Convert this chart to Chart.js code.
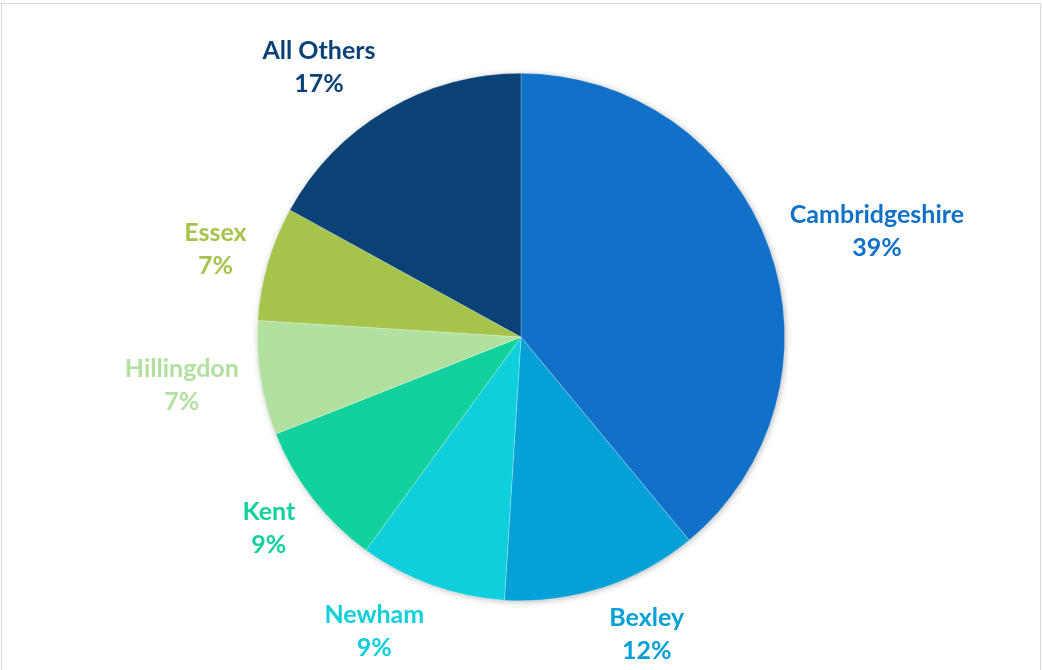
<!DOCTYPE html>
<html>
<head>
<meta charset="utf-8">
<script src="https://cdn.jsdelivr.net/npm/chart.js@4/dist/chart.umd.min.js"></script>
<style>
    html, body { margin: 0; padding: 0; background: #fff; overflow: hidden; }
    #wrap { position: absolute; left: 0; top: 0; width: 1042px; height: 670px; }
    #frame {
        position: absolute; left: 1px; top: 3px; width: 1038px; height: 700px;
        border: 1.5px solid #d9d9d9; pointer-events: none;
    }
</style>
</head>
<body>
<div id="wrap"><canvas id="pieChart" width="1042" height="670"></canvas></div>
<div id="frame"></div>
<script>
const regions = ['Cambridgeshire', 'Bexley', 'Newham', 'Kent', 'Hillingdon', 'Essex', 'All Others'];
const shares = [39, 12, 9, 9, 7, 7, 17];
const sliceColors = ['#1170c8', '#05a0d8', '#0ecfdb', '#12d19c', '#b2e0a0', '#a6c44c', '#0b4276'];

// soft shadow behind the whole pie
const pieShadow = {
    id: 'pieShadow',
    beforeDatasetsDraw(chart) {
        const arc = chart.getDatasetMeta(0).data[0];
        if (!arc) return;
        const ctx = chart.ctx;
        ctx.save();
        ctx.shadowColor = 'rgba(0,0,0,0.35)';
        ctx.shadowBlur = 7;
        ctx.shadowOffsetX = 1;
        ctx.shadowOffsetY = 1;
        ctx.fillStyle = '#ffffff';
        ctx.beginPath();
        ctx.arc(arc.x, arc.y, arc.outerRadius - 1, 0, Math.PI * 2);
        ctx.fill();
        ctx.restore();
    }
};

// category name + percentage outside each slice, in the slice colour
const outsideLabels = {
    id: 'outsideLabels',
    afterDatasetsDraw(chart) {
        const ctx = chart.ctx;
        const meta = chart.getDatasetMeta(0);
        const lineH = 33;
        ctx.save();
        ctx.font = 'bold 25px Lato';
        ctx.textAlign = 'center';
        ctx.textBaseline = 'middle';
        meta.data.forEach((arc, i) => {
            const mid = (arc.startAngle + arc.endAngle) / 2;
            const ux = Math.cos(mid), uy = Math.sin(mid);
            const pct = shares[i] + '%';
            const w = Math.max(ctx.measureText(regions[i]).width, ctx.measureText(pct).width);
            const h = lineH * 2 - 12;
            const r = arc.outerRadius + 22;
            const cx = arc.x + r * ux + Math.sign(ux) * w / 2;
            const cy = arc.y + r * uy + uy * h / 2;
            ctx.fillStyle = sliceColors[i];
            ctx.fillText(regions[i], cx, cy - lineH / 2);
            ctx.fillText(pct, cx, cy + lineH / 2);
        });
        ctx.restore();
    }
};

new Chart(document.getElementById('pieChart'), {
    type: 'pie',
    data: {
        labels: regions,
        datasets: [{
            data: shares,
            backgroundColor: sliceColors,
            borderColor: 'rgba(255,255,255,0.4)',
            borderWidth: 0.6
        }]
    },
    options: {
        responsive: false,
        animation: false,
        layout: { padding: { top: 73, bottom: 69, left: 0, right: 0 } },
        plugins: {
            legend: { display: false },
            tooltip: { enabled: false }
        }
    },
    plugins: [pieShadow, outsideLabels]
});
</script>
</body>
</html>
